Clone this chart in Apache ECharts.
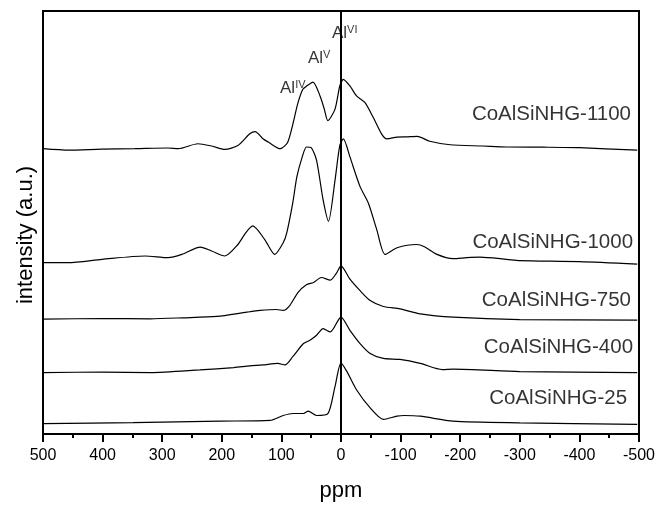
<!DOCTYPE html>
<html><head><meta charset="utf-8">
<script src="https://cdn.jsdelivr.net/npm/echarts@6/dist/echarts.min.js"></script>
<style>html,body{margin:0;padding:0;background:#fff}#c{width:658px;height:507px}</style>
</head><body><div id="c"></div>
<script>
// ---- data (ppm, intensity above own baseline, a.u.) ----
const seriesNames = ['CoAlSiNHG-1100', 'CoAlSiNHG-1000', 'CoAlSiNHG-750', 'CoAlSiNHG-400', 'CoAlSiNHG-25'];
const baselineOffsets = [288, 173, 116, 62, 10.5];

const s1100 = [[500,0],[457,-1.5],[402,-0.5],[346,0],[290,0.7],[273,0],[240,5],[217,2.7],[195,-0.7],[173,3.3],[153,15],[144,17.3],[131,10],[122,6.7],[102,0],[89,7],[72,46.7],[64,60],[58,63],[47,67.3],[35,53],[28,40],[22,28.3],[10,40],[2,63.3],[-4,70],[-15,63.3],[-26,53.3],[-40,46.7],[-54,31.7],[-68,15],[-77,10],[-94,11.7],[-110,12],[-128,12.5],[-149,7.5],[-183,4],[-238,2.7],[-278,1.7],[-340,1.5],[-400,1],[-497,-1.5]];
const s1000 = [[500,0],[458,0],[401,3.3],[329,6.7],[290,5],[267,8.3],[236,15.7],[217,11.7],[195,6.7],[173,18.3],[160,30],[148,37],[128,23.3],[111,8.3],[97,20],[91,30],[81,60],[74,86.7],[65,106.7],[58,116.7],[50,116],[41,103.3],[30,63.3],[21,41.7],[10,83.3],[2,118.3],[-4,125],[-15,106.7],[-32,76.7],[-46,60],[-60,33.3],[-74,8.3],[-94,15],[-127,18.3],[-140,16],[-161,8.3],[-188,4],[-211,5],[-233,5.5],[-278,3.3],[-300,2],[-400,1],[-497,-1.5]];
const s750 = [[500,0],[400,0.5],[320,0.3],[265,1.3],[208,2.7],[158,7],[136,8.7],[108,9.7],[97,8.7],[86,13.7],[72,27],[58,34.7],[46,37],[33,42],[18,39.3],[7,47],[0,53.7],[-15,40.3],[-32,28.7],[-49,18.7],[-71,12.7],[-99,10.3],[-133,5.3],[-188,2],[-300,-0.5],[-497,-1]];
const s400 = [[500,0],[400,0.5],[320,0],[237,2.7],[180,5],[153,6.7],[131,7.7],[106,9.3],[94,7.7],[81,16],[63,29.3],[52,32.7],[41,37.7],[30,44.3],[18,41],[0,56],[-15,42.7],[-32,29.3],[-49,19.3],[-71,14.3],[-99,13.3],[-133,9.3],[-170,3],[-188,3.5],[-300,1],[-497,0]];
const s25 = [[500,0],[349,1],[203,2.5],[119,3.2],[97,8.2],[80,10.2],[63,10.2],[55,12.5],[41,8.2],[22,10],[10,37.5],[0,61],[-10,52.5],[-26,34.2],[-49,15.8],[-71,4.2],[-94,7.5],[-106,8.2],[-133,7.5],[-188,2.5],[-300,0.8],[-497,-0.8]];
const spectra = [s1100, s1000, s750, s400, s25];

// reference line at 0 ppm (from lowest baseline up past the Al(VI) peak)
const refLine = [[0, 10], [0, 355]];

// annotation anchors (ppm, a.u.)
const nameAnchors = [[-486.6, 323], [-490, 193], [-486.6, 135], [-490, 87], [-480, 36]];
const alLabels = [['Al', 'IV'], ['Al', 'V'], ['Al', 'VI']];
const alAnchors = [[102.3, 349], [55.4, 379.5], [15.1, 404]];

// ---- chart ----
const FONT = '"Liberation Sans", Arial, Helvetica, sans-serif';
const chart = echarts.init(document.getElementById('c'), null, {renderer: 'canvas'});

const lineSeries = spectra.map((s, i) => ({
  name: seriesNames[i],
  type: 'line',
  data: s.map(p => [p[0], p[1] + baselineOffsets[i]]),
  showSymbol: false,
  smooth: 0.25,
  lineStyle: {color: '#000', width: 1.2},
  silent: true
}));

const option = {
  animation: false,
  backgroundColor: '#fff',
  textStyle: {fontFamily: FONT, color: '#000'},
  grid: {left: 43, right: 19, top: 11, bottom: 69, show: true, borderColor: '#000', borderWidth: 2},
  xAxis: {
    type: 'value', min: -500, max: 500, interval: 100, inverse: true,
    axisLine: {show: true, onZero: false, lineStyle: {color: '#000', width: 2}},
    axisTick: {show: true, inside: false, length: 8, lineStyle: {color: '#000', width: 2}},
    minorTick: {show: true, splitNumber: 2, length: 4, lineStyle: {color: '#000', width: 2}},
    splitLine: {show: false},
    axisLabel: {color: '#000', fontSize: 16, margin: 14, fontFamily: FONT},
    name: 'ppm', nameLocation: 'middle', nameGap: 46,
    nameTextStyle: {fontSize: 22, color: '#000', fontFamily: FONT}
  },
  yAxis: {
    type: 'value', min: 0, max: 427,
    axisLine: {show: true, lineStyle: {color: '#000', width: 2}},
    axisTick: {show: false}, axisLabel: {show: false}, splitLine: {show: false},
    name: 'intensity (a.u.)', nameLocation: 'middle', nameGap: 6, nameRotate: 90,
    nameTextStyle: {fontSize: 22, color: '#000', fontFamily: FONT, padding: [0, 25, 0, 0]}
  },
  series: lineSeries.concat([
    {
      type: 'line', data: refLine, showSymbol: false, silent: true,
      lineStyle: {color: '#000', width: 2}
    },
    {
      type: 'scatter', symbolSize: 0, silent: true,
      data: nameAnchors.map((a, i) => ({value: a, name: seriesNames[i]})),
      label: {show: true, position: 'left', distance: 0, formatter: p => p.name,
        color: '#000', fontSize: 20.5, fontFamily: FONT}
    },
    {
      type: 'scatter', symbolSize: 0, silent: true,
      data: alAnchors.map((a, i) => ({value: a, name: alLabels[i][0] + alLabels[i][1]})),
      label: {show: true, position: 'right', distance: 0,
        formatter: p => '{b|' + alLabels[p.dataIndex][0] + '}{s|' + alLabels[p.dataIndex][1] + '}',
        rich: {
          b: {fontSize: 17, lineHeight: 18, color: '#000', fontFamily: FONT},
          s: {fontSize: 11, lineHeight: 11, verticalAlign: 'top', color: '#000', fontFamily: FONT}
        }}
    }
  ])
};
chart.setOption(option);
</script>
</body></html>
